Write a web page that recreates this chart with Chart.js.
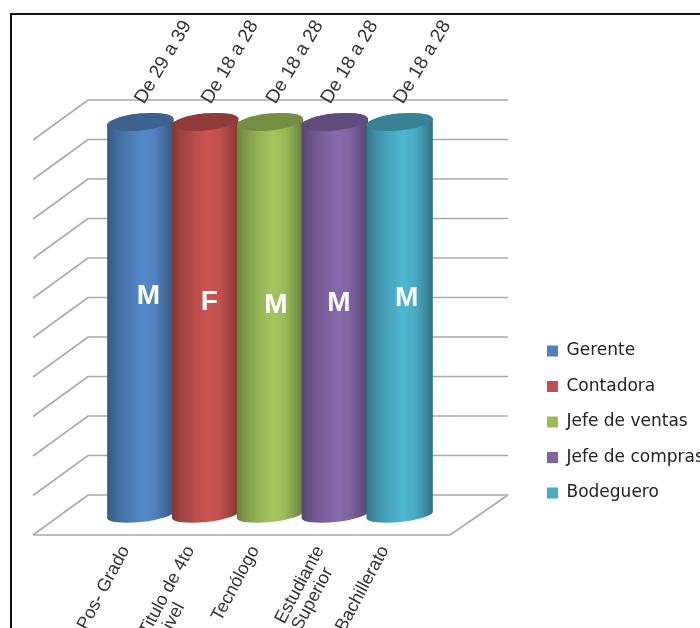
<!DOCTYPE html>
<html>
<head>
<meta charset="utf-8">
<style>
  html, body { margin: 0; padding: 0; background: #fff; overflow: hidden; }
  #chart { display: block; }
</style>
</head>
<body>
<canvas id="chart" width="700" height="628"></canvas>
<script src="https://cdn.jsdelivr.net/npm/chart.js@4/dist/chart.umd.min.js"></script>
<script>
// trailing spaces pull the second line of a rotated label back towards the middle
const categories = ['Pos- Grado', ['Titulo de 4to', 'nivel           '], 'Tecnólogo', ['Estudiante', 'Superior   '], 'Bachillerato'];
const roles = ['Gerente', 'Contadora', 'Jefe de ventas', 'Jefe de compras', 'Bodeguero'];
const values = [1, 1, 1, 1, 1];
const ageLabels = ['De 29 a 39', 'De 18 a 28', 'De 18 a 28', 'De 18 a 28', 'De 18 a 28'];
const sexLabels = ['M', 'F', 'M', 'M', 'M'];
const colors = ['#4F81BD', '#C0504D', '#9BBB59', '#8064A2', '#4BACC6'];

// hand placed labels, same nudges for every render
const ageShiftX = [0, 2, 2, -8, 0];
const sexShift = [[8, -22], [4, -16], [6, -13], [4, -15], [7, -20]];

function shade(hex, f) {
  const n = parseInt(hex.slice(1), 16);
  return `rgb(${(n >> 16) * f | 0},${((n >> 8) & 255) * f | 0},${(n & 255) * f | 0})`;
}

// back wall sits behind the plane of the cylinders
const wallY = p => 495 - (515 - p) * 395 / 393;

const walls = {
  id: 'walls',
  beforeDatasetsDraw(chart) {
    const { ctx, scales: { y } } = chart;
    ctx.save();
    ctx.strokeStyle = '#aaaaaa';
    ctx.lineWidth = 1.6;
    y.ticks.forEach(t => {
      const py = wallY(y.getPixelForValue(t.value));
      ctx.beginPath();
      ctx.moveTo(33, py + 40);
      ctx.lineTo(88, py);
      ctx.lineTo(508, py);
      ctx.stroke();
    });
    // floor edge
    ctx.beginPath();
    ctx.moveTo(33, 535);
    ctx.lineTo(450, 535);
    ctx.lineTo(508, 495);
    ctx.stroke();
    ctx.restore();
  },
};

const cylinders = {
  id: 'cylinders',
  beforeDatasetDraw() {
    return false; // the cylinders below replace the flat bars
  },
  afterDatasetsDraw(chart) {
    const { ctx } = chart;
    const tilt = -0.1, topRy = 8.5, botRy = 7;
    roles.forEach((r, i) => {
      const bar = chart.getDatasetMeta(i).data[i];
      const cx = bar.x, rx = bar.width / 2, top = bar.y, bot = bar.base;
      const c = colors[i];
      const g = ctx.createLinearGradient(cx - rx, 0, cx + rx, 0);
      g.addColorStop(0, shade(c, 0.68));
      g.addColorStop(0.12, shade(c, 0.82));
      g.addColorStop(0.35, shade(c, 0.97));
      g.addColorStop(0.55, shade(c, 1.06));
      g.addColorStop(0.72, c);
      g.addColorStop(0.9, shade(c, 0.8));
      g.addColorStop(1, shade(c, 0.66));
      ctx.fillStyle = g;
      ctx.beginPath();
      ctx.ellipse(cx, bot, rx, botRy, tilt, 0, Math.PI);
      ctx.ellipse(cx, top, rx, topRy, tilt, Math.PI, 2 * Math.PI);
      ctx.closePath();
      ctx.fill();
      ctx.fillStyle = shade(c, 0.76);
      ctx.beginPath();
      ctx.ellipse(cx, top, rx, topRy, tilt, 0, 2 * Math.PI);
      ctx.fill();
    });
  },
  afterDraw(chart) {
    const { ctx } = chart;
    // frame around the whole chart
    ctx.save();
    ctx.strokeStyle = '#111';
    ctx.lineWidth = 2;
    ctx.strokeRect(11, 14, 900, 900);
    roles.forEach((r, i) => {
      const bar = chart.getDatasetMeta(i).data[i];
      // age range above each cylinder
      ctx.save();
      ctx.translate(bar.x + ageShiftX[i] - 1, bar.y - 20);
      ctx.rotate(-59 * Math.PI / 180);
      ctx.font = '19px "Liberation Sans"';
      ctx.fillStyle = '#333';
      ctx.textAlign = 'left';
      ctx.textBaseline = 'middle';
      ctx.fillText(ageLabels[i], 0, 0);
      ctx.restore();
      // sex in the middle of the cylinder
      ctx.font = 'bold 28px "Liberation Sans"';
      ctx.fillStyle = '#fff';
      ctx.textAlign = 'center';
      ctx.textBaseline = 'middle';
      ctx.fillText(sexLabels[i], bar.x + sexShift[i][0], (bar.y + bar.base) / 2 + sexShift[i][1]);
    });
    ctx.restore();
  },
  afterLayout(chart) {
    // legend box sits by itself in the free space on the right
    const lg = chart.legend;
    const pad = lg.options.labels.padding;
    lg.left = 547 - pad;
    lg.right = 760;
    lg.top = 351 - 8.5 - pad;
    lg.bottom = 628;
  },
};

new Chart(document.getElementById('chart'), {
  type: 'bar',
  data: {
    labels: categories,
    datasets: roles.map((r, i) => ({
      label: r,
      data: categories.map((_, j) => (j === i ? values[i] : null)),
      backgroundColor: colors[i],
      borderWidth: 0,
      barPercentage: 1.03,
      categoryPercentage: 1,
    })),
  },
  plugins: [walls, cylinders],
  options: {
    responsive: false,
    animation: false,
    layout: { padding: { left: 108, right: 268, top: 122, bottom: 0 } },
    scales: {
      x: {
        stacked: true,
        grid: { display: false, drawTicks: false },
        border: { display: false },
        afterFit(scale) { scale.height = 113; },
        ticks: {
          autoSkip: false,
          minRotation: 62,
          maxRotation: 62,
          padding: 28,
          labelOffset: -15,
          color: '#333',
          font: { family: '"Liberation Sans"', size: 18, lineHeight: 1 },
        },
      },
      y: {
        stacked: true,
        min: 0,
        max: 1,
        grid: { display: false, drawTicks: false },
        border: { display: false },
        ticks: { display: false, stepSize: 0.1 },
      },
    },
    plugins: {
      title: { display: false },
      tooltip: { enabled: false },
      legend: {
        position: 'chartArea',
        align: 'start',
        labels: {
          boxWidth: 11,
          boxHeight: 11,
          padding: 18.5,
          color: '#222',
          font: { family: '"DejaVu Sans"', size: 17 },
        },
      },
    },
  },
});
</script>
</body>
</html>
